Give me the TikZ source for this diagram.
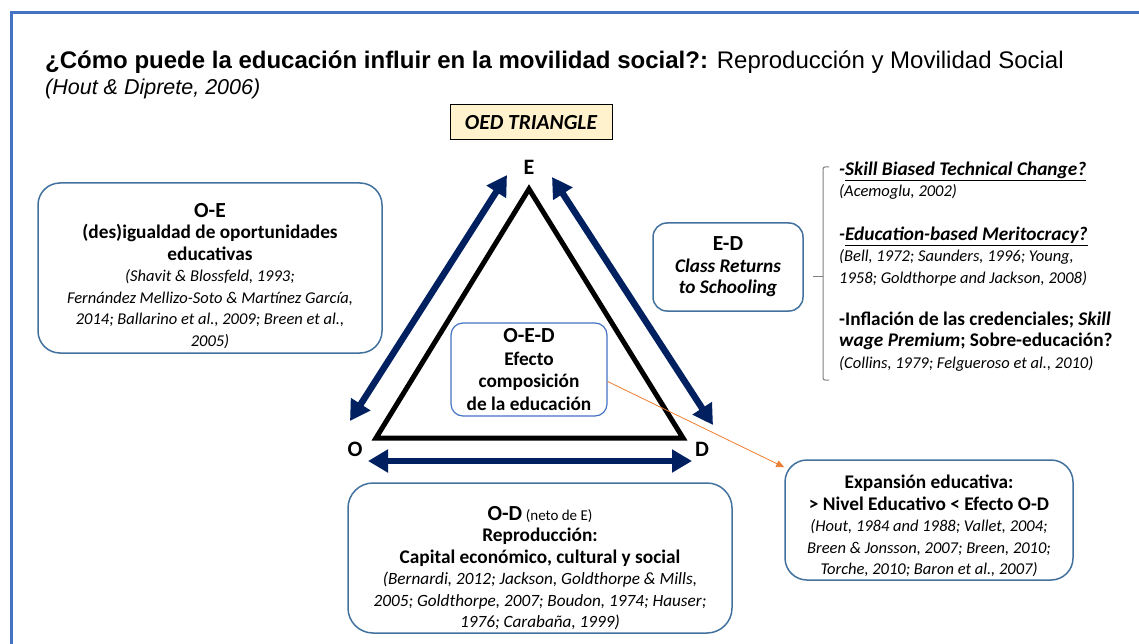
\documentclass[tikz,border=0pt]{standalone}
\usepackage{fontspec}
\setmainfont{Carlito}
\newfontfamily\arialfont{Liberation Sans}
\usepackage{tikz}
\usetikzlibrary{arrows.meta}

\definecolor{navyarrow}{RGB}{0,32,96}
\definecolor{frameblue}{RGB}{68,114,196}
\definecolor{boxblue}{RGB}{65,113,156}
\definecolor{oedblue}{RGB}{68,114,196}
\definecolor{oedfill}{RGB}{255,242,204}
\definecolor{linkorange}{RGB}{237,125,49}
\definecolor{bracketgray}{RGB}{127,127,127}

\newcommand{\headtext}[1]{{\fontsize{21.5}{23}\selectfont\bfseries #1}}
\newcommand{\boldtext}[1]{{\fontsize{19.3}{22}\selectfont\bfseries #1}}
\newcommand{\bolditext}[1]{{\fontsize{19.3}{22}\selectfont\bfseries\itshape #1}}
\newcommand{\citetext}[1]{{\fontsize{16.5}{20}\selectfont\itshape #1}}
\newcommand{\citelarge}[1]{{\fontsize{17.2}{20}\selectfont\itshape #1}}

\tikzset{
  roundbox/.style={draw=boxblue, line width=1.5pt, rounded corners=22pt, inner sep=0pt},
  boxtext/.style={align=center, inner sep=0pt, font=\fontsize{16}{21.5}\selectfont},
  listtext/.style={align=left, inner sep=0pt, anchor=base west, font=\fontsize{16}{21.3}\selectfont},
  twoway/.style={navyarrow, line width=6.5pt,
    {Triangle[length=20pt,width=22pt]}-{Triangle[length=20pt,width=22pt]}},
  vertex/.style={inner sep=0pt, font=\fontsize{22}{24}\selectfont\bfseries},
}

\begin{document}
\begin{tikzpicture}[x=1pt, y=-1pt]
    \useasboundingbox (0,0) rectangle (1139,644);
    \draw [frameblue, line width=3pt] (11,644) -- (11,13) -- (1139,13);

    \node [anchor=base west, inner sep=0pt, font=\arialfont\fontsize{24}{28}\selectfont] (title) at (45,69)
        {\textbf{¿Cómo puede la educación influir en la movilidad social?:} Reproducción y Movilidad Social};
    \node [anchor=base west, inner sep=0pt, font=\arialfont\itshape\fontsize{21.5}{25}\selectfont] (source) at (45,95)
        {(Hout \& Diprete, 2006)};
    \node [draw=black, fill=oedfill, line width=1pt, minimum width=162pt, minimum height=35pt, inner sep=0pt,
        font=\fontsize{21.5}{24}\selectfont\bfseries\itshape] (oedtitle) at (531,122.5) {OED TRIANGLE};

    \coordinate (vE) at (529,189);
    \coordinate (vO) at (376,438);
    \coordinate (vD) at (683,438);
    \draw [line width=5pt, line join=miter] (vO) -- (vE) -- (vD) -- cycle;
    \node [vertex] (labE) at (529,167) {E};
    \node [vertex] (labO) at (355,449) {O};
    \node [vertex] (labD) at (702,449) {D};

    \coordinate (oeO) at (350,421);
    \coordinate (oeE) at (507,175);
    \coordinate (edE) at (552,177);
    \coordinate (edD) at (713,425);
    \coordinate (odO) at (368,461);
    \coordinate (odD) at (692,461);
    \draw [twoway] (oeO) -- (oeE);
    \draw [twoway] (edE) -- (edD);
    \draw [twoway] (odO) -- (odD);

    \node [roundbox, minimum width=344pt, minimum height=170pt] (oe) at (210,268) {};
    \node [boxtext] (oetext) at ([yshift=-8pt]oe.center)
        {\headtext{O-E}\\ \boldtext{(des)igualdad de oportunidades}\\ \boldtext{educativas}\\
         \citetext{(Shavit \& Blossfeld, 1993;}\\
         \citetext{Fernández Mellizo-Soto \& Martínez García,}\\
         \citetext{2014; Ballarino et al., 2009; Breen et al.,}\\
         \citetext{2005)}};

    \node [roundbox, rounded corners=14pt, minimum width=150pt, minimum height=88pt] (ed) at (728,267) {};
    \node [boxtext] (edtext) at (ed.center)
        {\headtext{E-D}\\ \bolditext{Class Returns}\\ \bolditext{to Schooling}};

    \node [draw=oedblue, line width=1.2pt, rounded corners=12pt, minimum width=156pt, minimum height=93pt,
        inner sep=0pt] (oed) at (529,369.5) {};
    \node [boxtext] (oedtext) at (oed.center)
        {\headtext{O-E-D}\\[1pt] \boldtext{Efecto}\\[1pt] \boldtext{composición}\\[1pt] \boldtext{de la educación}};

    \node [roundbox, rounded corners=25pt, minimum width=384pt, minimum height=150pt] (od) at (540,558) {};
    \node [boxtext] (odtext) at ([yshift=-10pt]od.center)
        {\headtext{O-D} {\fontsize{15}{16}\selectfont (neto de E)}\\ \boldtext{Reproducción:}\\
         \boldtext{Capital económico, cultural y social}\\
         \citelarge{(Bernardi, 2012; Jackson, Goldthorpe \& Mills,}\\
         \citelarge{2005; Goldthorpe, 2007; Boudon, 1974; Hauser;}\\
         \citelarge{1976; Carabaña, 1999)}};

    \node [roundbox, minimum width=288pt, minimum height=120pt] (exp) at (929,520) {};
    \node [boxtext] (exptext) at ([yshift=-6pt]exp.center)
        {\boldtext{Expansión educativa:}\\ \boldtext{> Nivel Educativo < Efecto O-D}\\
         \citetext{(Hout, 1984 and 1988; Vallet, 2004;}\\
         \citetext{Breen \& Jonsson, 2007; Breen, 2010;}\\
         \citetext{Torche, 2010; Baron et al., 2007)}};

    \draw [bracketgray, line width=1pt, rounded corners=2pt] (829,167) -- (823,167) -- (823,380) -- (829,380);
    \draw [bracketgray, line width=1pt] (823,276) -- (813,276);
    \node [listtext] (skill) at (839,197)
        {\bolditext{-\underline{Skill Biased Technical Change?}}\\ \citetext{(Acemoglu, 2002)}};
    \node [listtext] (merit) at (839,283)
        {\bolditext{-\underline{Education-based Meritocracy?}}\\ \citetext{(Bell, 1972; Saunders, 1996; Young,}\\
         \citetext{1958; Goldthorpe and Jackson, 2008)}};
    \node [listtext] (infl) at (839,368)
        {\boldtext{-Inflación de las credenciales; \textit{Skill}}\\ \boldtext{\textit{wage Premium}; Sobre-educación?}\\
         \citetext{(Collins, 1979; Felgueroso et al., 2010)}};

    \draw [linkorange, line width=0.8pt, -{Triangle[length=8pt,width=7pt]}] ([yshift=-12pt]oed.east) -- ([yshift=-8pt]exp.north west);
\end{tikzpicture}
\end{document}
